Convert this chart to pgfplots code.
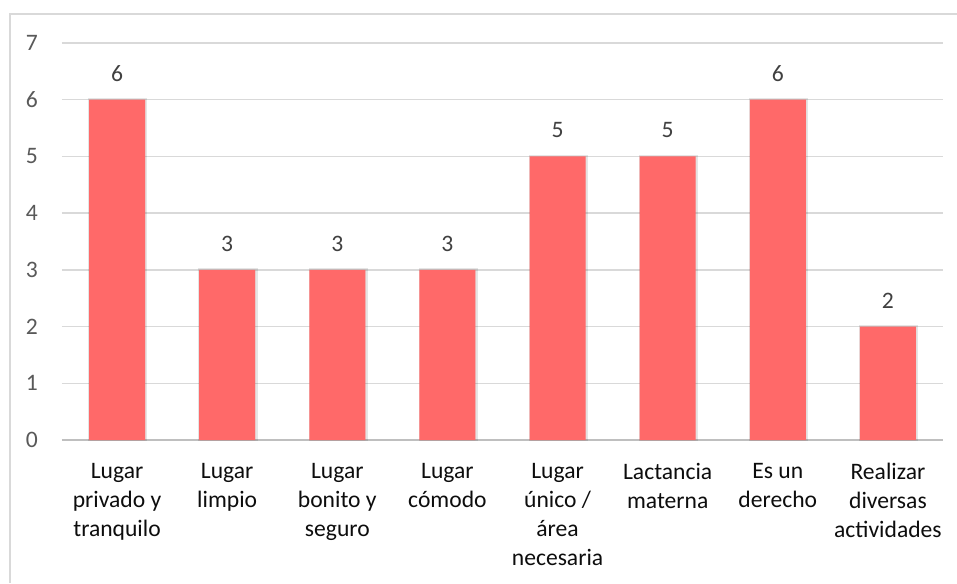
\documentclass[border=0pt]{standalone}
\usepackage{pgfplots}
\pgfplotsset{compat=1.18}
\usepackage{fontspec}
\setmainfont{Carlito}
\definecolor{barc}{RGB}{255,105,105}
\definecolor{gridc}{RGB}{217,217,217}
\definecolor{axc}{RGB}{191,191,191}
\definecolor{tickc}{RGB}{89,89,89}
\definecolor{labc}{RGB}{64,64,64}
\definecolor{catc}{RGB}{13,13,13}
\definecolor{framec}{RGB}{217,217,217}
\begin{document}
\begin{tikzpicture}
\path[use as bounding box] (0,0) rectangle (478.5pt,-291.5pt);
\draw[framec, line width=0.8pt] (5pt,-291.5pt) -- (5pt,-7pt) -- (478.5pt,-7pt);
\begin{axis}[
  at={(31pt,-220pt)}, anchor=south west,
  scale only axis, width=440.5pt, height=198.5pt,
  xmin=-0.5, xmax=7.5, ymin=0, ymax=7,
  axis x line*=bottom, axis y line*=left,
  x axis line style={axc, line width=1pt, -},
  y axis line style={draw=none},
  axis on top=false,
  ytick={0,...,7}, xtick={0,...,7},
  ymajorgrids, grid style={gridc, line width=0.75pt},
  major tick length=0pt,
  tick style={draw=none},
  font=\fontsize{11.8pt}{14.6pt}\selectfont,
  /pgf/number format/assume math mode=true,
  xticklabels={{Lugar\\privado y\\tranquilo},{Lugar\\limpio},{Lugar\\bonito y\\seguro},{Lugar\\cómodo},{Lugar\\único /\\área\\necesaria},{Lactancia\\materna},{Es un\\derecho},{Realizar\\diversas\\actividades}},
  xticklabel style={align=center, text=catc, anchor=north, yshift=-8pt},
  yticklabel style={text=tickc, anchor=east, xshift=-8.5pt},
  ybar, bar width=28pt,
  nodes near coords,
  every node near coord/.append style={text=labc, inner sep=0pt, yshift=9pt, font=\fontsize{11.8pt}{14.6pt}\selectfont},
]
\addplot[fill=barc, draw=none, preaction={draw=black, line width=1.6pt, opacity=0.1, transform canvas={xshift=0.4pt}}] coordinates {(0,6) (1,3) (2,3) (3,3) (4,5) (5,5) (6,6) (7,2)};
\end{axis}
\end{tikzpicture}
\end{document}
